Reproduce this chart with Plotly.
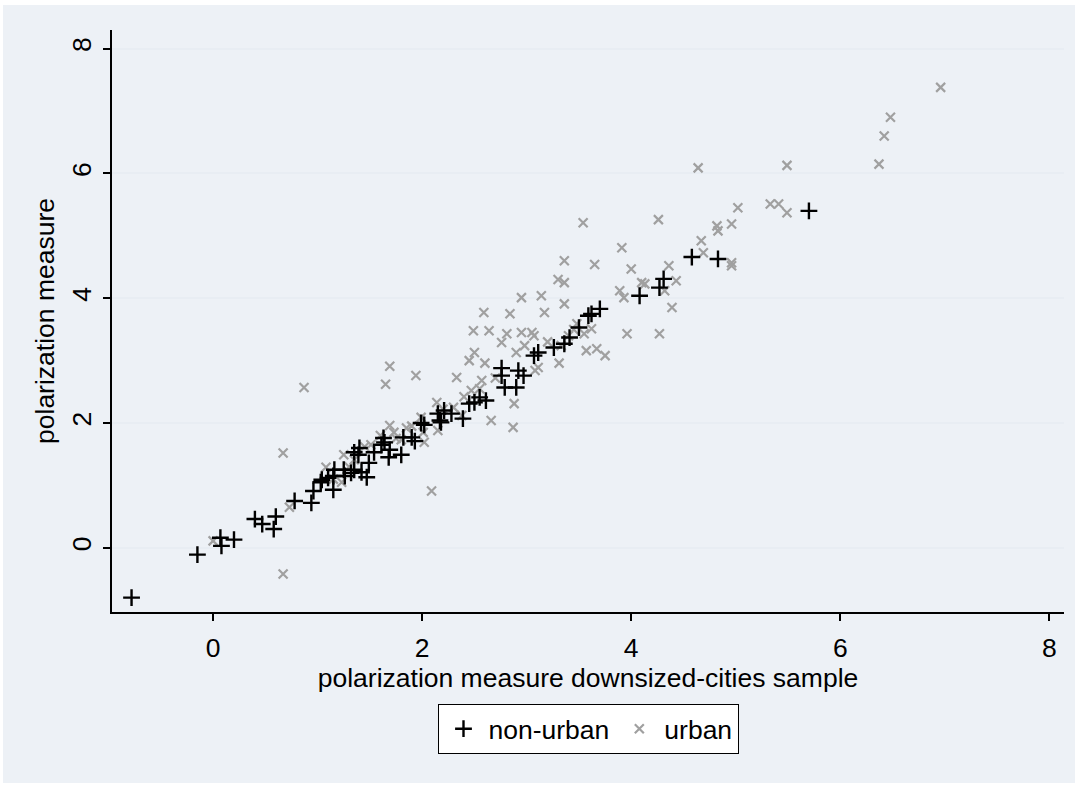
import plotly.graph_objects as go

# non-urban (+)
nonurban_x = [-0.78, -0.15, 0.07, 0.08, 0.20, 0.40, 0.47, 0.60, 0.58, 0.78, 0.94, 0.96, 1.03,
              1.04, 1.10, 1.15, 1.16, 1.15, 1.25, 1.26, 1.32, 1.35, 1.42, 1.47, 1.49, 1.35, 1.40,
              1.39, 1.54, 1.61, 1.64, 1.63, 1.69, 1.68, 1.80, 1.82, 1.90, 1.93, 1.99, 2.02, 2.15,
              2.17, 2.18, 2.21, 2.28, 2.39, 2.45, 2.50, 2.55, 2.61, 2.76, 2.76, 2.79, 2.90, 2.92,
              2.97, 3.07, 3.11, 3.26, 3.36, 3.41, 3.50, 3.59, 3.62, 3.70, 4.08, 4.27, 4.31, 4.58,
              4.83, 5.70]
nonurban_y = [-0.80, -0.11, 0.16, 0.03, 0.13, 0.46, 0.38, 0.50, 0.30, 0.75, 0.72, 0.91, 1.05,
              1.09, 1.12, 0.93, 1.25, 1.15, 1.25, 1.15, 1.20, 1.25, 1.21, 1.13, 1.36, 1.53, 1.60,
              1.49, 1.53, 1.65, 1.69, 1.76, 1.57, 1.45, 1.49, 1.77, 1.77, 1.71, 2.00, 1.97, 2.15,
              2.04, 2.01, 2.20, 2.15, 2.07, 2.31, 2.33, 2.41, 2.36, 2.88, 2.76, 2.57, 2.57, 2.84,
              2.76, 3.08, 3.13, 3.21, 3.27, 3.37, 3.53, 3.72, 3.75, 3.83, 4.04, 4.17, 4.31, 4.66,
              4.63, 5.40]

# urban (x)
urban_x = [0.67, 0.00, 0.73, 0.67, 0.87, 1.65, 1.94, 1.69, 1.25, 1.08, 1.23, 1.35, 1.51, 1.69,
           1.73, 1.85, 1.80, 1.99, 2.01, 2.02, 2.09, 2.14, 2.15, 2.33, 2.45, 2.50, 2.60, 2.59,
           2.49, 2.64, 2.84, 2.76, 2.81, 2.90, 2.95, 2.95, 3.05, 2.98, 3.11, 2.88, 2.66, 2.87,
           2.57, 2.47, 2.38, 3.54, 4.26, 3.91, 3.36, 3.65, 4.00, 3.30, 3.36, 3.14, 3.36, 3.17,
           3.89, 3.93, 4.10, 4.36, 4.43, 4.39, 4.32, 3.96, 4.27, 3.57, 3.67, 3.75, 3.55, 3.48,
           3.40, 3.33, 3.31, 3.07, 3.08, 3.62, 4.64, 5.49, 5.02, 5.33, 5.41, 5.49, 4.96, 4.82,
           4.83, 4.67, 4.69, 4.96, 4.96, 4.13, 6.96, 6.48, 6.42, 6.37, 1.15, 1.30, 1.45, 1.60,
           1.75, 1.90, 2.20, 2.30, 2.40, 2.55, 2.70, 3.20, 3.45]
urban_y = [1.52, 0.11, 0.65, -0.42, 2.57, 2.62, 2.76, 2.91, 1.49, 1.29, 1.05, 1.41, 1.65, 1.96,
           1.85, 1.92, 1.73, 2.09, 1.85, 1.69, 0.91, 2.33, 1.88, 2.73, 3.00, 3.13, 2.96, 3.77,
           3.48, 3.48, 3.75, 3.29, 3.43, 3.13, 3.45, 4.01, 3.45, 3.24, 2.89, 2.31, 2.04, 1.93,
           2.68, 2.52, 2.12, 5.21, 5.26, 4.81, 4.60, 4.54, 4.47, 4.30, 4.25, 4.04, 3.91, 3.77,
           4.12, 4.01, 4.25, 4.52, 4.28, 3.85, 4.12, 3.43, 3.43, 3.16, 3.19, 3.08, 3.43, 3.59,
           3.40, 3.24, 2.96, 3.40, 2.84, 3.51, 6.09, 6.13, 5.45, 5.51, 5.51, 5.37, 5.19, 5.16,
           5.08, 4.92, 4.73, 4.57, 4.52, 4.23, 7.38, 6.90, 6.60, 6.15, 1.10, 1.30, 1.62, 1.80,
           1.75, 1.95, 2.22, 2.25, 2.42, 2.55, 2.72, 3.30, 3.50]

x_ticks = [0, 2, 4, 6, 8]
y_ticks = [0, 2, 4, 6, 8]

FONT = "Liberation Sans, Arial, sans-serif"
PANEL = "#edf1f6"
FS = 26.5

fig = go.Figure()
fig.add_trace(go.Scatter(
    x=urban_x, y=urban_y, mode="markers", name="urban",
    marker=dict(symbol="x-thin", size=9, color="rgba(0,0,0,0)",
                line=dict(color="#a0a0a0", width=2.2)),
))
fig.add_trace(go.Scatter(
    x=nonurban_x, y=nonurban_y, mode="markers", name="non-urban",
    marker=dict(symbol="cross-thin", size=12, color="rgba(0,0,0,0)",
                line=dict(color="#000000", width=2.4)),
))

fig.update_layout(
    width=1078, height=786,
    margin=dict(l=112, r=14, t=30, b=174),
    paper_bgcolor="white",
    plot_bgcolor="white",
    font=dict(family=FONT, size=FS, color="black"),
    showlegend=True,
    legend=dict(
        orientation="h", x=0.5, xanchor="center", y=-0.158, yanchor="top",
        bordercolor="black", borderwidth=1, bgcolor="white",
        font=dict(size=FS), traceorder="reversed", itemwidth=40,
    ),
    shapes=[dict(type="rect", xref="paper", yref="paper",
                 x0=-0.1145, x1=1.0116, y0=-0.2938, y1=1.043,
                 fillcolor=PANEL, line=dict(width=0), layer="below")],
)
fig.update_xaxes(
    range=[-0.967, 8.14], tickvals=x_ticks, ticks="outside", ticklen=7, tickwidth=1.5,
    tickcolor="black", showline=True, linecolor="black", linewidth=1.5, showgrid=False,
    zeroline=False, tickfont=dict(size=FS), ticklabelstandoff=4,
    title=dict(text="polarization measure downsized-cities sample", font=dict(size=FS), standoff=0),
)
fig.update_yaxes(
    range=[-1.03, 8.30], tickvals=y_ticks, ticks="outside", ticklen=7, tickwidth=1.5,
    tickcolor="black", showline=True, linecolor="black", linewidth=1.5, showgrid=True,
    gridcolor="#e8edf3", gridwidth=2, zeroline=False, tickangle=-90, tickfont=dict(size=FS),
    ticklabelstandoff=2,
    title=dict(text="polarization measure", font=dict(size=FS), standoff=4),
)

fig.write_html("out.html")
